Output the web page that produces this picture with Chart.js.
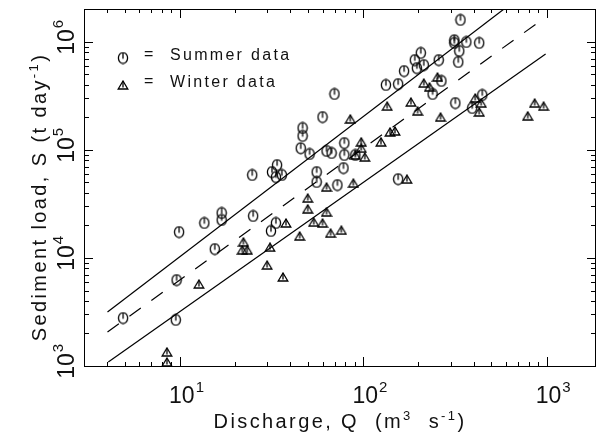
<!DOCTYPE html>
<html>
<head>
<meta charset="utf-8">
<script src="https://cdn.jsdelivr.net/npm/chart.js@4.4.1/dist/chart.umd.min.js"></script>
<style>
  html, body { margin: 0; padding: 0; background: #fff; }
  #chart { display: block; }
</style>
</head>
<body>
<canvas id="chart" width="602" height="442"></canvas>
<script>
// Summer samples: discharge Q (m3/s) and sediment load S (t/day)
const summerQ = [4.9, 9.5, 9.6, 9.9, 15.5, 13.6, 16.9, 16.9, 24.8, 25.1, 31.8, 33.9, 33.4, 36, 33.4, 31.4,
  45.6, 46.7, 46.7, 51, 55.7, 55.7, 60, 63.1, 67.2, 69.7, 72.3, 78.9, 78.9, 78, 90.6,
  133, 155, 155, 167, 191, 214, 196, 206, 258, 239, 267, 314, 314, 334, 330, 339, 365, 429, 318, 446, 393];
const summerS = [2780, 2670, 6250, 17400, 12100, 21100, 26100, 22500, 58700, 24500, 62500, 72600, 56200, 58700, 21100, 17800,
  104000, 160000, 135000, 91900, 62500, 50600, 202000, 98000, 93800, 330000, 47400, 116000, 89900, 68100, 89900,
  400000, 408000, 53800, 538000, 681000, 612000, 574000, 792000, 681000, 330000, 436000, 1040000, 980000, 826000, 653000,
  1600000, 1000000, 980000, 272000, 323000, 245000];

// Winter samples
const winterQ = [8.5, 8.5, 12.7, 22.2, 21.9, 23.3, 31, 29.9, 36.5, 37.9, 45, 49.8, 49.8, 53.7, 60, 63.1, 63.1, 66.4, 76,
  85, 88.3, 90.6, 102, 97.5, 97.5, 125, 140, 149, 135, 173, 182, 198, 214, 230, 254, 264, 408, 440, 429, 861, 963, 789];
const winterS = [1350, 1090, 5740, 14100, 11900, 11900, 12600, 8610, 6670, 21100, 16000, 35900, 28500, 21500, 21100, 26700, 45400, 17000, 18100,
  194000, 49400, 89900, 86100, 119000, 104000, 119000, 147000, 150000, 255000, 53800, 278000, 230000, 417000, 383000, 474000, 202000,
  303000, 272000, 225000, 272000, 255000, 207000];

// regression line (dashed) and the two bounding lines, end points
const fitQ = [4.03, 975];
const fitS = [2065, 1670000];
const upperQ = [4.03, 586];
const upperS = [3162, 2020000];
const lowerQ = [4.07, 988];
const lowerS = [1090, 774000];

// axis ticks: labels are 10^exp
const xTickExps = [1, 2, 3];
const yTickExps = [3, 4, 5, 6];
const xTitle = [{ t: 'Discharge, Q  (m' }, { t: '3', sup: true }, { t: '  s' }, { t: '-1', sup: true }, { t: ')' }];
const yTitle = [{ t: 'Sediment load, S (t day' }, { t: '-1', sup: true }, { t: ')' }];
const legendItems = ['Summer data', 'Winter data'];

const FONT = '"Liberation Sans", Arial, sans-serif';
const INK = '#000';

const pts = (xs, ys) => xs.map((v, i) => ({ x: v, y: ys[i] }));

function circleMark() {
  const c = document.createElement('canvas');
  c.width = 12; c.height = 13;
  const g = c.getContext('2d');
  g.strokeStyle = INK; g.lineWidth = 1.3;
  g.beginPath(); g.ellipse(6, 6.5, 4.6, 5.4, 0, 0, Math.PI * 2); g.stroke();
  g.beginPath(); g.moveTo(6, 1.2); g.lineTo(6, 7.3); g.stroke();
  return c;
}

function triangleMark() {
  const c = document.createElement('canvas');
  c.width = 12; c.height = 10;
  const g = c.getContext('2d');
  g.strokeStyle = INK; g.lineWidth = 1.3;
  g.beginPath(); g.moveTo(6, 1); g.lineTo(1.2, 9); g.lineTo(10.8, 9); g.closePath(); g.stroke();
  g.beginPath(); g.moveTo(6, 1); g.lineTo(6, 7.5); g.stroke();
  return c;
}

const circleImg = circleMark();
const triangleImg = triangleMark();

// tick values 1..9 x 10^n inside the scale range
function tickValues(scale) {
  const out = [];
  for (let e = -1; e <= 7; e++) {
    for (let m = 1; m <= 9; m++) {
      const v = m * Math.pow(10, e);
      if (v >= scale.min * 0.999 && v <= scale.max * 1.001) out.push({ v, major: m === 1 });
    }
  }
  return out;
}

function drawRich(ctx, segs, size, spacing) {
  let w = 0;
  segs.forEach(s => {
    ctx.font = (s.sup ? Math.round(size * 0.65) : size) + 'px ' + FONT;
    ctx.letterSpacing = spacing + 'px';
    s.w = ctx.measureText(s.t).width;
    w += s.w;
  });
  let x = -w / 2;
  segs.forEach(s => {
    ctx.font = (s.sup ? Math.round(size * 0.65) : size) + 'px ' + FONT;
    ctx.letterSpacing = spacing + 'px';
    ctx.fillText(s.t, x, s.sup ? -size * 0.42 : 0);
    x += s.w;
  });
}

function drawPow(ctx, exp) {
  // "10" centred on 0, exponent raised to the right
  ctx.font = '23px ' + FONT;
  ctx.letterSpacing = '0px';
  const w = ctx.measureText('10').width;
  ctx.textAlign = 'left';
  ctx.fillText('10', -w / 2, 9);
  ctx.font = '15px ' + FONT;
  ctx.fillText(String(exp), w / 2 + 1, -2);
}

const decorations = {
  id: 'decorations',
  afterDraw(chart) {
    const { ctx, chartArea: a, scales: { x, y } } = chart;
    ctx.save();
    ctx.strokeStyle = INK;
    ctx.fillStyle = '#111';
    ctx.lineWidth = 1;

    // frame
    ctx.strokeRect(a.left + 0.5, a.top + 0.5, a.right - a.left - 1, a.bottom - a.top);

    // inward ticks on all four sides
    ctx.beginPath();
    tickValues(x).forEach(t => {
      const px = Math.round(x.getPixelForValue(t.v)) + 0.5;
      const len = t.major ? 9 : 4;
      ctx.moveTo(px, a.bottom); ctx.lineTo(px, a.bottom - len);
      ctx.moveTo(px, a.top); ctx.lineTo(px, a.top + len);
    });
    tickValues(y).forEach(t => {
      const py = Math.round(y.getPixelForValue(t.v)) + 0.5;
      const len = t.major ? 9 : 5;
      ctx.moveTo(a.left, py); ctx.lineTo(a.left + len, py);
      ctx.moveTo(a.right, py); ctx.lineTo(a.right - len, py);
    });
    ctx.stroke();

    // tick labels
    ctx.textBaseline = 'alphabetic';
    xTickExps.forEach(e => {
      ctx.save();
      ctx.translate(x.getPixelForValue(Math.pow(10, e)) + 2, 394);
      drawPow(ctx, e);
      ctx.restore();
    });
    yTickExps.forEach(e => {
      ctx.save();
      ctx.translate(65, y.getPixelForValue(Math.pow(10, e)));
      ctx.rotate(-Math.PI / 2);
      drawPow(ctx, e);
      ctx.restore();
    });

    // axis titles
    ctx.textAlign = 'left';
    ctx.save();
    ctx.translate((a.left + a.right) / 2, 428);
    drawRich(ctx, xTitle, 20, 2.4);
    ctx.restore();
    ctx.save();
    ctx.translate(46, 197);
    ctx.rotate(-Math.PI / 2);
    drawRich(ctx, yTitle, 20, 2.4);
    ctx.restore();

    // legend
    const marks = [circleImg, triangleImg];
    const rows = [60, 87];
    legendItems.forEach((label, i) => {
      const m = marks[i];
      ctx.drawImage(m, 123 - m.width / 2, rows[i] - 2 - m.height / 2);
      ctx.font = '16px ' + FONT;
      ctx.letterSpacing = '0px';
      ctx.fillText('=', 144, rows[i] - 1);
      ctx.letterSpacing = '2.3px';
      ctx.fillText(label, 170, rows[i]);
    });
    ctx.restore();
  }
};

const lineStyle = { showLine: true, pointRadius: 0, borderColor: INK, borderWidth: 1.2, fill: false };

new Chart(document.getElementById('chart'), {
  type: 'scatter',
  data: {
    datasets: [
      { label: 'Upper', data: pts(upperQ, upperS), ...lineStyle },
      { label: 'Fit', data: pts(fitQ, fitS), ...lineStyle, borderDash: [14, 13] },
      { label: 'Lower', data: pts(lowerQ, lowerS), ...lineStyle },
      { label: 'Summer data', data: pts(summerQ, summerS), pointStyle: circleImg, pointRadius: 5 },
      { label: 'Winter data', data: pts(winterQ, winterS), pointStyle: triangleImg, pointRadius: 5 }
    ]
  },
  options: {
    responsive: false,
    animation: false,
    devicePixelRatio: 1,
    events: [],
    layout: { padding: { left: 0, right: 2, top: 9, bottom: 0 } },
    scales: {
      x: {
        type: 'logarithmic', min: 3, max: 1860,
        ticks: { display: false }, grid: { display: false }, border: { display: false },
        afterFit: s => { s.height = 76; }
      },
      y: {
        type: 'logarithmic', min: 1000, max: 2020000,
        ticks: { display: false }, grid: { display: false }, border: { display: false },
        afterFit: s => { s.width = 84; }
      }
    },
    plugins: { legend: { display: false }, tooltip: { enabled: false } }
  },
  plugins: [decorations]
});
</script>
</body>
</html>
